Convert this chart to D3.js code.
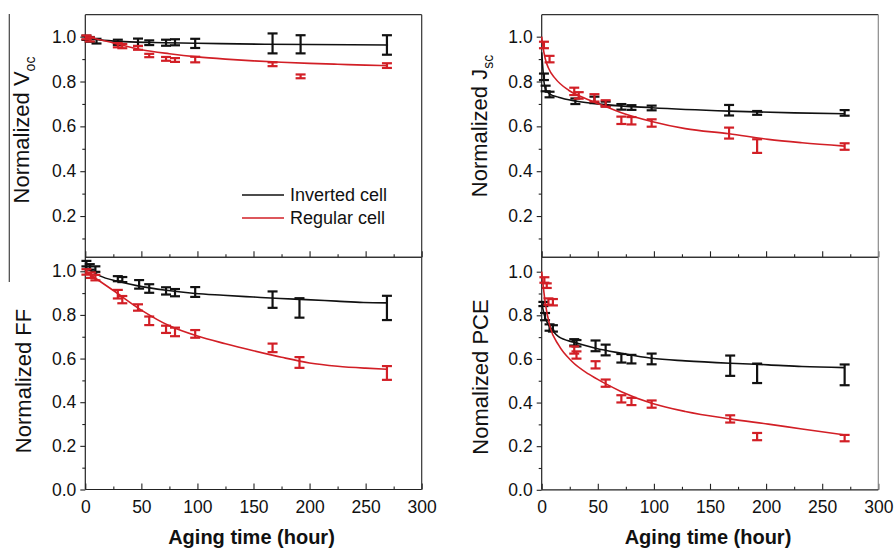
<!DOCTYPE html>
<html>
<head>
<meta charset="utf-8">
<script src="https://cdn.jsdelivr.net/npm/d3@7"></script>
<style>
  body { margin: 0; background: #fff; }
  svg { font-family: Arial, "Liberation Sans", sans-serif; }
</style>
</head>
<body>
<script>
// ---- data (hours, normalized value, error) ----

// Voc
var vocInvHours  = [1, 4, 10, 29, 47, 57, 72, 80, 98, 167, 192, 269];
var vocInvValues = [0.995, 0.988, 0.980, 0.975, 0.975, 0.973, 0.973, 0.975, 0.970, 0.970, 0.966, 0.963];
var vocInvErrors = [0.005, 0.006, 0.006, 0.007, 0.012, 0.006, 0.009, 0.009, 0.016, 0.040, 0.036, 0.039];
var vocRegHours  = [1, 4, 29, 33, 47, 57, 72, 80, 98, 167, 192, 269];
var vocRegValues = [0.997, 0.988, 0.962, 0.958, 0.950, 0.916, 0.901, 0.896, 0.898, 0.877, 0.823, 0.871];
var vocRegErrors = [0.004, 0.005, 0.005, 0.005, 0.004, 0.003, 0.004, 0.004, 0.008, 0.004, 0.004, 0.006];
var vocInvFitHours  = [0, 10, 30, 60, 100, 160, 200, 270];
var vocInvFitValues = [1.0, 0.988, 0.979, 0.974, 0.971, 0.966, 0.965, 0.963];
var vocRegFitHours  = [0, 10, 25, 50, 75, 100, 125, 150, 175, 200, 225, 250, 270];
var vocRegFitValues = [1.0, 0.99, 0.972, 0.942, 0.924, 0.910, 0.900, 0.892, 0.886, 0.881, 0.877, 0.873, 0.871];

// Jsc
var jscInvHours  = [2, 3.5, 7, 30, 47, 57, 71, 80, 98, 167, 192, 270];
var jscInvValues = [0.821, 0.769, 0.742, 0.712, 0.718, 0.700, 0.687, 0.684, 0.682, 0.672, 0.660, 0.660];
var jscInvErrors = [0.010, 0.008, 0.008, 0.008, 0.010, 0.006, 0.008, 0.006, 0.006, 0.019, 0.004, 0.008];
var jscRegHours  = [2, 7, 29, 33, 47, 57, 71, 80, 98, 167, 192, 270];
var jscRegValues = [0.963, 0.900, 0.756, 0.738, 0.727, 0.702, 0.627, 0.625, 0.615, 0.570, 0.512, 0.510];
var jscRegErrors = [0.010, 0.010, 0.012, 0.010, 0.012, 0.010, 0.012, 0.012, 0.012, 0.020, 0.026, 0.010];
var jscInvFitHours  = [0, 1, 2, 3.5, 7, 15, 30, 56, 98, 167, 225, 270];
var jscInvFitValues = [0.93, 0.86, 0.80, 0.765, 0.745, 0.73, 0.713, 0.697, 0.683, 0.668, 0.660, 0.656];
var jscRegFitHours  = [0, 1, 3, 6, 12, 24, 39, 54, 71, 98, 128, 167, 202, 232, 270];
var jscRegFitValues = [1.0, 0.96, 0.905, 0.86, 0.814, 0.761, 0.724, 0.694, 0.661, 0.622, 0.590, 0.567, 0.542, 0.527, 0.512];

// FF
var ffInvHours  = [1, 4, 9, 29, 33, 48, 57, 72, 80, 98, 167, 191, 269];
var ffInvValues = [1.035, 1.020, 1.010, 0.966, 0.962, 0.940, 0.921, 0.910, 0.902, 0.905, 0.870, 0.832, 0.832];
var ffInvErrors = [0.008, 0.008, 0.008, 0.007, 0.007, 0.015, 0.015, 0.012, 0.012, 0.018, 0.033, 0.040, 0.051];
var ffRegHours  = [1, 5, 9, 29, 33, 47, 57, 72, 80, 98, 167, 191, 269];
var ffRegValues = [0.997, 0.982, 0.971, 0.895, 0.870, 0.834, 0.773, 0.734, 0.722, 0.713, 0.649, 0.582, 0.534];
var ffRegErrors = [0.008, 0.008, 0.008, 0.015, 0.012, 0.010, 0.015, 0.012, 0.015, 0.013, 0.015, 0.020, 0.027];
var ffInvFitHours  = [0, 13, 29, 47, 72, 98, 123, 150, 174, 197, 224, 248, 269];
var ffInvFitValues = [1.02, 0.979, 0.954, 0.933, 0.913, 0.898, 0.890, 0.882, 0.875, 0.870, 0.863, 0.857, 0.855];
var ffRegFitHours  = [0, 25, 50, 75, 100, 125, 150, 175, 200, 225, 250, 269];
var ffRegFitValues = [1.0, 0.912, 0.822, 0.750, 0.703, 0.668, 0.636, 0.606, 0.580, 0.565, 0.556, 0.551];

// PCE
var pceInvHours  = [1.5, 3, 7, 10, 29, 31, 48, 57, 71, 80, 98, 168, 192, 270];
var pceInvValues = [0.852, 0.794, 0.744, 0.740, 0.676, 0.672, 0.660, 0.641, 0.603, 0.599, 0.600, 0.569, 0.534, 0.527];
var pceInvErrors = [0.005, 0.012, 0.010, 0.010, 0.010, 0.010, 0.020, 0.020, 0.015, 0.015, 0.020, 0.042, 0.040, 0.043];
var pceRegHours  = [2.4, 4.5, 6, 10, 29, 31, 48, 57, 71, 80, 98, 168, 192, 270];
var pceRegValues = [0.962, 0.936, 0.863, 0.860, 0.641, 0.618, 0.573, 0.489, 0.417, 0.405, 0.393, 0.325, 0.244, 0.237];
var pceRegErrors = [0.008, 0.006, 0.010, 0.010, 0.012, 0.012, 0.012, 0.012, 0.012, 0.012, 0.012, 0.012, 0.012, 0.010];
var pceInvFitHours  = [0, 3, 7.4, 15, 29, 48, 71, 98, 128, 168, 202, 232, 270];
var pceInvFitValues = [0.855, 0.79, 0.748, 0.702, 0.676, 0.649, 0.626, 0.603, 0.591, 0.580, 0.573, 0.565, 0.560];
var pceRegFitHours  = [0, 3, 7.4, 15, 27, 42, 56, 71, 98, 128, 168, 202, 232, 270];
var pceRegFitValues = [1.0, 0.863, 0.748, 0.664, 0.588, 0.530, 0.489, 0.450, 0.397, 0.359, 0.325, 0.301, 0.279, 0.252];

var xTicks = [0, 50, 100, 150, 200, 250, 300];
var xMinorTicks = [25, 75, 125, 175, 225, 275];
var yTicksTop = [0.2, 0.4, 0.6, 0.8, 1.0];
var yTicksBottom = [0.0, 0.2, 0.4, 0.6, 0.8, 1.0];
var yMinorTicks = [0.1, 0.3, 0.5, 0.7, 0.9];
var legendNames = ["Inverted cell", "Regular cell"];

var black = "#111";
var red = "#d21f26";

var svg = d3.select("body").append("svg")
    .attr("width", 895)
    .attr("height", 552);

function zip(h, v, e) {
  return h.map(function(d, i) { return {h: d, v: v[i], e: e ? e[i] : 0}; });
}

/**
  draws one of the four panels
*/
function drawPanel(p) {
  var x = d3.scaleLinear().domain([0, 300]).range([p.left, p.right]);
  var y = d3.scaleLinear().domain(p.yDomain).range([p.bottom, p.top]);
  var g = svg.append("g");

  // y axis, ticks pointing out
  g.append("g")
      .attr("transform", "translate(" + p.left + ",0)")
      .call(d3.axisLeft(y).tickValues(p.yTicks).tickSize(5).tickPadding(4).tickFormat(d3.format(".1f")));
  g.append("g")
      .attr("transform", "translate(" + p.left + ",0)")
      .call(d3.axisLeft(y).tickValues(yMinorTicks).tickSize(3).tickFormat(""));

  // x axis, ticks pointing in
  var xa = d3.axisBottom(x).tickValues(xTicks).tickSize(-6).tickPadding(11)
      .tickFormat(p.xLabels ? d3.format("d") : "");
  g.append("g")
      .attr("transform", "translate(0," + p.bottom + ")")
      .call(xa);
  g.append("g")
      .attr("transform", "translate(0," + p.bottom + ")")
      .call(d3.axisBottom(x).tickValues(xMinorTicks).tickSize(-3).tickFormat(""));

  g.selectAll(".domain").remove();
  g.selectAll(".tick line").attr("stroke", "#222").attr("stroke-width", 1.1);
  g.selectAll(".tick text")
      .attr("fill", "#111")
      .style("font-size", "17.5px")
      .style("font-family", "Arial, 'Liberation Sans', sans-serif");

  // frame
  g.append("line").attr("x1", p.left).attr("x2", p.right).attr("y1", p.top).attr("y2", p.top)
      .attr("stroke", "#333").attr("stroke-width", 1.2);
  g.append("line").attr("x1", p.right).attr("x2", p.right).attr("y1", p.top).attr("y2", p.bottom)
      .attr("stroke", p.rightColor).attr("stroke-width", 1.2);
  g.append("line").attr("x1", p.left).attr("x2", p.right).attr("y1", p.bottom).attr("y2", p.bottom)
      .attr("stroke", "#222").attr("stroke-width", 1.2);
  g.append("line").attr("x1", p.left).attr("x2", p.left).attr("y1", p.top).attr("y2", p.bottom)
      .attr("stroke", "#222").attr("stroke-width", 1.2);

  var line = d3.line()
      .x(function(d) { return x(d.h); })
      .y(function(d) { return y(d.v); })
      .curve(d3.curveMonotoneX);

  p.series.forEach(function(s) {
    g.append("path")
        .datum(zip(s.fitHours, s.fitValues))
        .attr("fill", "none")
        .attr("stroke", s.color)
        .attr("stroke-width", 1.6)
        .attr("d", line);

    var bars = g.selectAll(null)
        .data(zip(s.hours, s.values, s.errors))
        .enter().append("g")
        .attr("stroke", s.color)
        .attr("stroke-width", 2.2);
    bars.append("line")
        .attr("x1", function(d) { return x(d.h); })
        .attr("x2", function(d) { return x(d.h); })
        .attr("y1", function(d) { return y(d.v - d.e) + 1; })
        .attr("y2", function(d) { return y(d.v + d.e) - 1; });
    bars.append("line")
        .attr("x1", function(d) { return x(d.h) - 5; })
        .attr("x2", function(d) { return x(d.h) + 5; })
        .attr("y1", function(d) { return y(d.v + d.e) - 1; })
        .attr("y2", function(d) { return y(d.v + d.e) - 1; });
    bars.append("line")
        .attr("x1", function(d) { return x(d.h) - 5; })
        .attr("x2", function(d) { return x(d.h) + 5; })
        .attr("y1", function(d) { return y(d.v - d.e) + 1; })
        .attr("y2", function(d) { return y(d.v - d.e) + 1; });
  });

  // y label
  var lab = svg.append("text")
      .attr("transform", "translate(" + p.labelX + "," + p.labelY + ") rotate(-90)")
      .attr("text-anchor", "middle")
      .style("font-size", "22px")
      .attr("fill", "#111")
      .text(p.label);
  if (p.sub) {
    lab.append("tspan").attr("dy", 6).style("font-size", "14px").text(p.sub);
  }

  if (p.xLabels) {
    svg.append("text")
        .attr("x", (p.left + p.right) / 2 - 2)
        .attr("y", 544)
        .attr("text-anchor", "middle")
        .style("font-size", "20px")
        .style("font-weight", "bold")
        .attr("fill", "#111")
        .text("Aging time (hour)");
  }
  return {x: x, y: y};
}

var tl = drawPanel({
  left: 85.3, right: 421.7, top: 14.7, bottom: 257.3, yDomain: [0.016, 1.098],
  yTicks: yTicksTop, xLabels: false, rightColor: "#333",
  label: "Normalized V", sub: "oc", labelX: 29, labelY: 130,
  series: [
    {color: black, hours: vocInvHours, values: vocInvValues, errors: vocInvErrors, fitHours: vocInvFitHours, fitValues: vocInvFitValues},
    {color: red, hours: vocRegHours, values: vocRegValues, errors: vocRegErrors, fitHours: vocRegFitHours, fitValues: vocRegFitValues}
  ]
});

drawPanel({
  left: 541.7, right: 878.3, top: 14.7, bottom: 257.3, yDomain: [0.016, 1.098],
  yTicks: yTicksTop, xLabels: false, rightColor: "#8a8a8a",
  label: "Normalized J", sub: "sc", labelX: 487, labelY: 126,
  series: [
    {color: black, hours: jscInvHours, values: jscInvValues, errors: jscInvErrors, fitHours: jscInvFitHours, fitValues: jscInvFitValues},
    {color: red, hours: jscRegHours, values: jscRegValues, errors: jscRegErrors, fitHours: jscRegFitHours, fitValues: jscRegFitValues}
  ]
});

drawPanel({
  left: 85.3, right: 421.7, top: 257.3, bottom: 489.5, yDomain: [0, 1.064],
  yTicks: yTicksBottom, xLabels: true, rightColor: "#333",
  label: "Normalized FF", labelX: 31, labelY: 381,
  series: [
    {color: black, hours: ffInvHours, values: ffInvValues, errors: ffInvErrors, fitHours: ffInvFitHours, fitValues: ffInvFitValues},
    {color: red, hours: ffRegHours, values: ffRegValues, errors: ffRegErrors, fitHours: ffRegFitHours, fitValues: ffRegFitValues}
  ]
});

drawPanel({
  left: 541.7, right: 878.3, top: 257.3, bottom: 489.8, yDomain: [0, 1.066],
  yTicks: yTicksBottom, xLabels: true, rightColor: "#8a8a8a",
  label: "Nomalized PCE", labelX: 488, labelY: 377,
  series: [
    {color: black, hours: pceInvHours, values: pceInvValues, errors: pceInvErrors, fitHours: pceInvFitHours, fitValues: pceInvFitValues},
    {color: red, hours: pceRegHours, values: pceRegValues, errors: pceRegErrors, fitHours: pceRegFitHours, fitValues: pceRegFitValues}
  ]
});

// legend inside the Voc panel
var legend = svg.selectAll(".legend")
    .data(legendNames)
  .enter().append("g")
    .attr("class", "legend")
    .attr("transform", function(d, i) { return "translate(242," + (195 + i * 23) + ")"; });
legend.append("line")
    .attr("x1", 0).attr("x2", 42)
    .attr("stroke", function(d, i) { return i == 0 ? black : red; })
    .attr("stroke-width", 1.6);
legend.append("text")
    .attr("x", 48)
    .attr("dy", "0.35em")
    .style("font-size", "18px")
    .attr("fill", "#111")
    .text(function(d) { return d; });

// stray border line on the left of the figure
svg.append("line")
    .attr("x1", 9.3).attr("x2", 9.3).attr("y1", 14).attr("y2", 282)
    .attr("stroke", "#444").attr("stroke-width", 1.2);
</script>
</body>
</html>
